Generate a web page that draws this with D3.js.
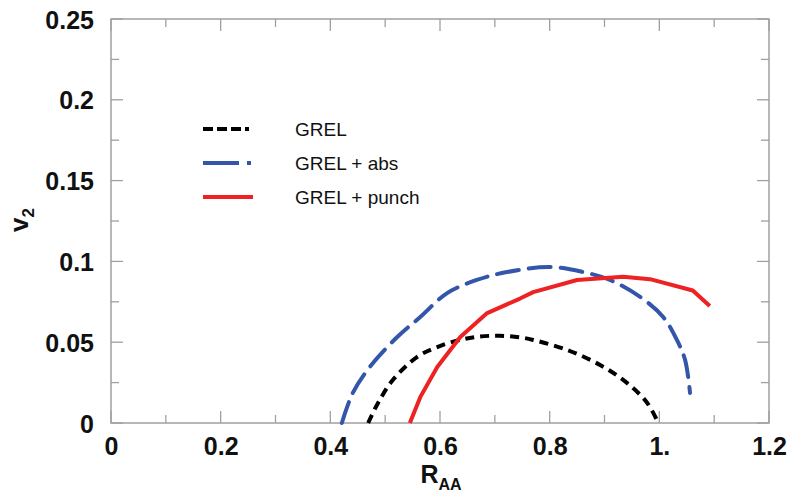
<!DOCTYPE html>
<html><head><meta charset="utf-8">
<script src="https://cdn.jsdelivr.net/npm/d3@7"></script>
<style>body{margin:0;background:#fff}svg{display:block}</style>
</head><body>
<svg id="chart" width="790" height="495"></svg>
<script>
const xTicks = [0, 0.2, 0.4, 0.6, 0.8, 1.0, 1.2];
const xTickLabels = ["0", "0.2", "0.4", "0.6", "0.8", "1.", "1.2"];
const yTicks = [0, 0.05, 0.1, 0.15, 0.2, 0.25];
const yTickLabels = ["0", "0.05", "0.1", "0.15", "0.2", "0.25"];
const seriesNames = ["GREL", "GREL + abs", "GREL + punch"];

const grelX = [0.469, 0.487, 0.514, 0.558, 0.595, 0.637, 0.673, 0.709, 0.746, 0.770, 0.832, 0.892, 0.941, 0.978, 0.998];
const grelY = [0, 0.0124, 0.0266, 0.0408, 0.047, 0.0515, 0.0535, 0.054, 0.053, 0.0514, 0.0452, 0.0359, 0.0248, 0.0124, 0];
const absX = [0.421, 0.441, 0.472, 0.522, 0.564, 0.613, 0.667, 0.722, 0.801, 0.861, 0.910, 0.965, 1.007, 1.032, 1.047, 1.056];
const absY = [0, 0.0186, 0.0347, 0.0532, 0.0656, 0.0804, 0.0885, 0.0934, 0.0965, 0.0934, 0.0885, 0.078, 0.0656, 0.0514, 0.039, 0.0186];
const punchX = [0.545, 0.564, 0.595, 0.637, 0.686, 0.746, 0.770, 0.850, 0.934, 0.983, 1.061, 1.092];
const punchY = [0, 0.016, 0.0347, 0.0532, 0.068, 0.077, 0.081, 0.0885, 0.0905, 0.089, 0.082, 0.0724];

const svg = d3.select("#chart");
const L = 111, R = 769, T = 19, B = 423;
const x = d3.scaleLinear().domain([0, 1.2]).range([L, R]);
const y = d3.scaleLinear().domain([0, 0.25]).range([B, T]);
const frameColor = "#a0a0a0";
const font = "Liberation Sans, Arial, sans-serif";

// frame
svg.append("rect").attr("x", L).attr("y", T).attr("width", R - L).attr("height", B - T)
  .attr("fill", "none").attr("stroke", frameColor).attr("stroke-width", 1.5);

// inward ticks, major and minor
const xMinor = d3.range(0, 13).map(i => i * 0.1);
const yMinor = d3.range(0, 11).map(i => i * 0.025);
const tickG = svg.append("g").attr("stroke", frameColor).attr("stroke-width", 1.3);
xMinor.forEach((v, i) => {
  const len = i % 2 === 0 ? 12 : 8;
  tickG.append("line").attr("x1", x(v)).attr("x2", x(v)).attr("y1", B).attr("y2", B - len);
  tickG.append("line").attr("x1", x(v)).attr("x2", x(v)).attr("y1", T).attr("y2", T + len);
});
yMinor.forEach((v, i) => {
  const len = i % 2 === 0 ? 12 : 8;
  tickG.append("line").attr("y1", y(v)).attr("y2", y(v)).attr("x1", L).attr("x2", L + len);
  tickG.append("line").attr("y1", y(v)).attr("y2", y(v)).attr("x1", R).attr("x2", R - len);
});

// tick labels via d3 axes
const xAxis = d3.axisBottom(x).tickValues(xTicks).tickFormat((d, i) => xTickLabels[i]).tickSize(0).tickPadding(14);
const gx = svg.append("g").attr("transform", `translate(0,${B})`).call(xAxis);
const yAxis = d3.axisLeft(y).tickValues(yTicks).tickFormat((d, i) => yTickLabels[i]).tickSize(0).tickPadding(17);
const gy = svg.append("g").attr("transform", `translate(${L},0)`).call(yAxis);
[gx, gy].forEach(g => {
  g.select(".domain").remove();
  g.selectAll("text").attr("font-family", font)
    .attr("font-weight", "bold").attr("font-size", 25).attr("fill", "#111");
});
gy.selectAll("text").attr("dy", "0.36em");
gx.selectAll("text").attr("dy", "0.72em");

// axis titles
const xt = svg.append("text").attr("x", 441).attr("y", 483).attr("text-anchor", "middle")
  .attr("font-family", font).attr("font-weight", "bold").attr("font-size", 25).attr("fill", "#111");
xt.append("tspan").text("R");
xt.append("tspan").attr("font-size", 16).attr("dy", 7).text("AA");

const yt = svg.append("text").attr("transform", "translate(28,220) rotate(-90)").attr("text-anchor", "middle")
  .attr("font-family", font).attr("font-weight", "bold").attr("font-size", 26).attr("fill", "#111");
yt.append("tspan").text("v");
yt.append("tspan").attr("font-size", 17).attr("dy", 6).text("2");

// curves
const smooth = d3.line().x(d => x(d[0])).y(d => y(d[1])).curve(d3.curveCatmullRom.alpha(0.5));
const lin = d3.line().x(d => x(d[0])).y(d => y(d[1]));
const gPts = grelX.map((v, i) => [v, grelY[i]]);
const aPts = absX.map((v, i) => [v, absY[i]]);
const pPts = punchX.map((v, i) => [v, punchY[i]]);

svg.append("path").attr("d", smooth(aPts)).attr("fill", "none").attr("stroke", "#3355aa")
  .attr("stroke-width", 4).attr("stroke-dasharray", "22,10").attr("stroke-linecap", "round");
svg.append("path").attr("d", smooth(gPts)).attr("fill", "none").attr("stroke", "#000")
  .attr("stroke-width", 4).attr("stroke-dasharray", "9,6").attr("stroke-linecap", "butt");
svg.append("path").attr("d", lin(pPts)).attr("fill", "none").attr("stroke", "#ee2222")
  .attr("stroke-width", 4).attr("stroke-linejoin", "round");

// legend
const legend = [
  {name: seriesNames[0], color: "#000", dash: "10,4,10,4,10,4,4,4", cy: 129},
  {name: seriesNames[1], color: "#3355aa", dash: "36,8,4,20", cy: 163},
  {name: seriesNames[2], color: "#ee2222", dash: null, cy: 197}
];
legend.forEach(d => {
  const ln = svg.append("line").attr("x1", 203).attr("x2", 253).attr("y1", d.cy).attr("y2", d.cy)
    .attr("stroke", d.color).attr("stroke-width", 4);
  if (d.dash) ln.attr("stroke-dasharray", d.dash);
  svg.append("text").attr("x", 295).attr("y", d.cy).attr("dy", "0.36em")
    .attr("font-family", font).attr("font-size", 19).attr("fill", "#111").text(d.name);
});
</script>
</body></html>
